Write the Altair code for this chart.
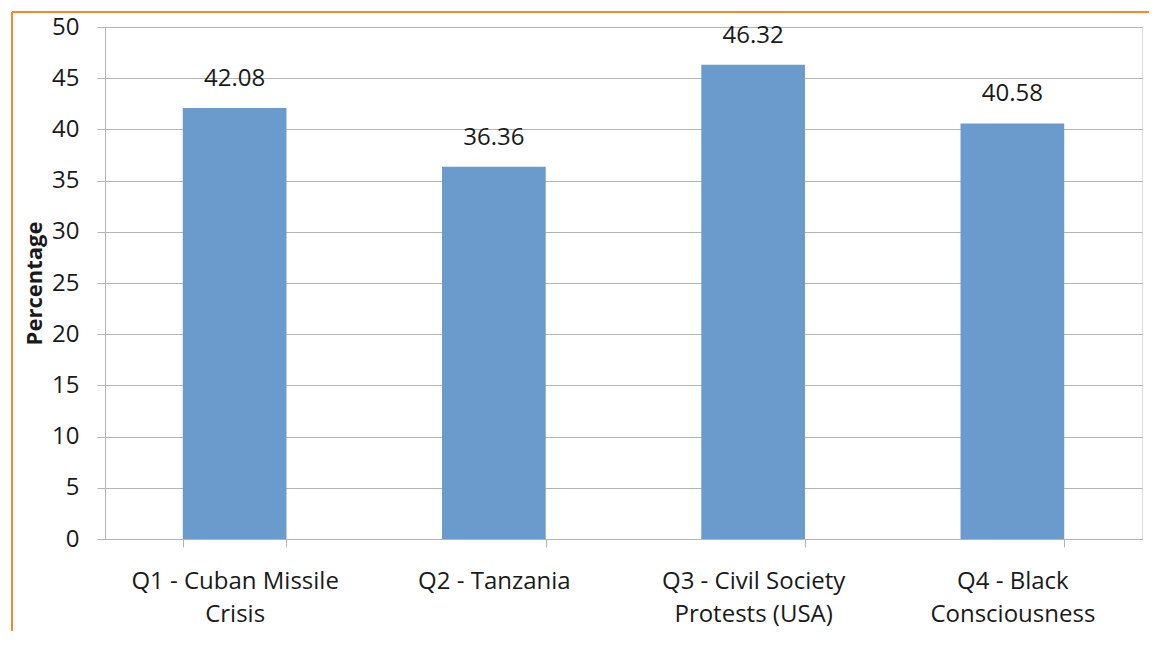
import altair as alt
import pandas as pd

categories = ["Q1 - Cuban Missile|Crisis", "Q2 - Tanzania", "Q3 - Civil Society|Protests (USA)", "Q4 - Black|Consciousness"]
values = [42.08, 36.36, 46.32, 40.58]

df = pd.DataFrame({"cat": categories, "val": values})

FONT = "Open Sans"
TEXT = "#1a1a1a"
GRID = "#b4b4b4"

x_enc = alt.X("cat:N", sort=categories, title=None,
              scale=alt.Scale(paddingInner=0.6, paddingOuter=0.3),
              axis=alt.Axis(labelExpr="split(datum.label, '|')", labelAngle=0,
                            labelFontSize=24, labelFont=FONT, labelColor=TEXT,
                            labelLineHeight=33, labelPadding=22, labelLimit=400,
                            tickBand="extent", tickSize=8, tickColor=GRID,
                            domainColor=GRID, grid=False))
y_enc = alt.Y("val:Q", title="Percentage",
              scale=alt.Scale(domain=[0, 50]),
              axis=alt.Axis(values=list(range(0, 55, 5)), labelFontSize=24,
                            labelFont=FONT, labelColor=TEXT, labelPadding=18,
                            tickSize=8, tickColor=GRID, domainColor=GRID,
                            gridColor=GRID, titleFont=FONT, titleFontSize=22,
                            titleFontWeight="bold", titleColor=TEXT, titlePadding=5))

bars = alt.Chart(df).mark_bar(color="#6a9bcc").encode(x=x_enc, y=y_enc)
labels = alt.Chart(df).mark_text(baseline="bottom", dy=-17, fontSize=24, font=FONT, color=TEXT).encode(
    x=alt.X("cat:N", sort=categories), y="val:Q", text=alt.Text("val:Q", format=".2f"))

frame_top = alt.Chart(df).mark_rule(color="#f28a2e", strokeWidth=1.5).encode(
    x=alt.value(-93), x2=alt.value(1200), y=alt.value(-15))
frame_left = alt.Chart(df).mark_rule(color="#f28a2e", strokeWidth=1.5).encode(
    x=alt.value(-93), y=alt.value(-15), y2=alt.value(800))

chart = alt.layer(frame_top, frame_left, bars, labels).properties(
    width=1037, height=512,
    autosize=alt.AutoSizeParams(type="none"),
    padding={"left": 97, "top": 19, "right": 7, "bottom": 92},
).configure_view(stroke=None).configure(background="white")

chart.save("out.html", embed_options={"renderer": "svg", "actions": False})
